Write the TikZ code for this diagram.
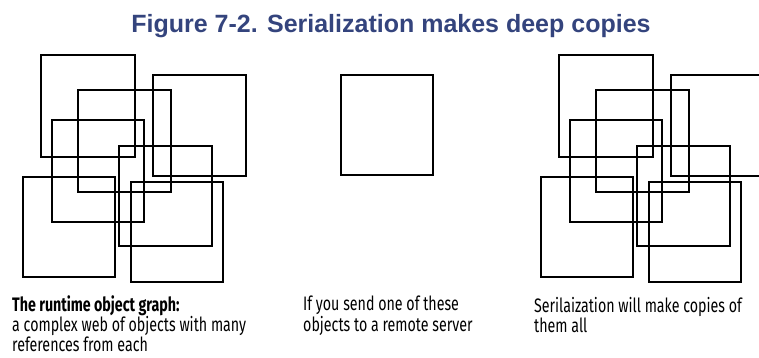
\documentclass[tikz,border=0pt]{standalone}
\usepackage{fontspec}
\setmainfont{Liberation Sans}
\newfontfamily\capfont[FakeStretch=0.73]{Fira Sans}
\usepackage{xcolor}
\usetikzlibrary{positioning}
\definecolor{titleblue}{RGB}{52,68,125}
\tikzstyle{obj} = [line width = 2.9pt, draw = black]
\tikzstyle{title} = [font = \bfseries\fontsize{25}{28}\selectfont, text = titleblue, inner sep = 0pt]
\tikzstyle{caption} = [font = \capfont\fontsize{19.5}{18}\selectfont, align = left, inner sep = 0pt, anchor = north west]

\begin{document}
\begin{tikzpicture}[x = 1pt, y = -1pt]
        \useasboundingbox (0,0) rectangle (759,358);
        \clip (0,0) rectangle (759,358);
        % draw title
        \node[title, anchor = base] (title) at (391,33) {Figure 7-2. Serialization makes deep copies};

        % draw the object graph (left) and its copy (right)
        \foreach \dx in {0, 518} {
            \begin{scope}[xshift = \dx]
                \foreach \xa/\ya/\xb/\yb in {41/55/135/157, 153/75/246/176, 78/90/171/192,
                    52/120/144/222, 119/146/212/246, 23/177/115/277, 131/182/223/282}
                    \draw[obj] (\xa,\ya) rectangle (\xb,\yb);
            \end{scope}
        }
        % draw the single object
        \draw[obj] (341,75) rectangle (433,175);

        % draw captions
        \node[caption] (graph) at (12,295) {\textbf{The runtime object graph:}\\a complex web of objects with many\\references from each};
        \node[caption] (send) at (303,296) {If you send one of these\\objects to a remote server};
        \node[caption] (copies) at (534,297) {Serilaization will make copies of\\them all};
    \end{tikzpicture}
\end{document}
